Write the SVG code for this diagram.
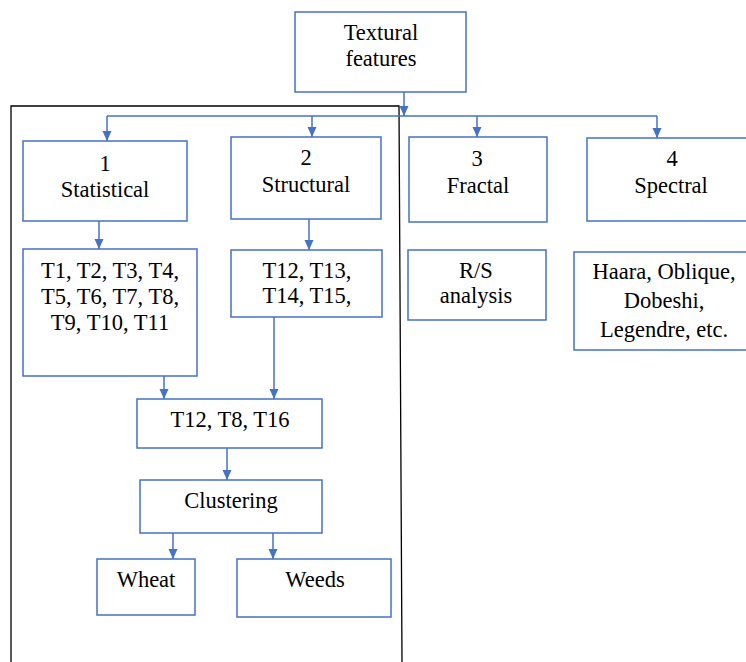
<svg xmlns="http://www.w3.org/2000/svg" width="746" height="662" viewBox="0 0 746 662">
<style>
.box{fill:#fff;stroke:#4472C4;stroke-width:1.5}
.ln{fill:none;stroke:#4472C4;stroke-width:1.5}
.ar{fill:none;stroke:#4472C4;stroke-width:1.5;marker-end:url(#ah)}
.t{font-family:'Liberation Serif','DejaVu Serif',serif;font-size:22.5px;fill:#000;text-anchor:middle}
</style>
<defs>
<marker id="ah" markerUnits="userSpaceOnUse" markerWidth="12" markerHeight="12" viewBox="0 0 12 12" refX="10" refY="6" orient="auto">
<path d="M0,1.5 L10,6 L0,10.5 Z" fill="#4472C4"/>
</marker>
</defs>
<rect width="746" height="662" fill="#fff"/>
<path id="frame" d="M11,662 L11,106 L399,106 L402,662" fill="none" stroke="#000" stroke-width="1.3"/>
<g id="connectors">
<line class="ar" x1="404" y1="92" x2="404" y2="116"/>
<line class="ln" x1="107" y1="116" x2="657" y2="116"/>
<line class="ar" x1="107" y1="116" x2="107" y2="141"/>
<line class="ar" x1="312" y1="116" x2="312" y2="137"/>
<line class="ar" x1="477" y1="116" x2="477" y2="137"/>
<line class="ar" x1="657" y1="116" x2="657" y2="138"/>
<line class="ar" x1="99" y1="221" x2="99" y2="249"/>
<line class="ar" x1="309" y1="219" x2="309" y2="250"/>
<line class="ar" x1="164" y1="376" x2="164" y2="399"/>
<line class="ar" x1="274" y1="317" x2="274" y2="399"/>
<line class="ar" x1="227" y1="448" x2="227" y2="480"/>
<line class="ar" x1="173" y1="533" x2="173" y2="559"/>
<line class="ar" x1="273" y1="533" x2="273" y2="559"/>
</g>
<g class="t">
<g id="n-textural"><rect class="box" x="295" y="12" width="171" height="80"/><text x="381" y="40">Textural</text><text x="381" y="66">features</text></g>
<g id="n-statistical"><rect class="box" x="23" y="141" width="164" height="80"/><text x="105" y="171">1</text><text x="105" y="197">Statistical</text></g>
<g id="n-structural"><rect class="box" x="231" y="137" width="150" height="82"/><text x="306" y="165">2</text><text x="306" y="192">Structural</text></g>
<g id="n-fractal"><rect class="box" x="409" y="137" width="138" height="85"/><text x="477" y="166">3</text><text x="478" y="193">Fractal</text></g>
<g id="n-spectral"><rect class="box" x="587" y="138" width="162" height="83"/><text x="672" y="166">4</text><text x="671" y="193">Spectral</text></g>
<g id="n-t1"><rect class="box" x="23" y="249" width="174" height="127"/><text x="110" y="278">T1, T2, T3, T4,</text><text x="110" y="304">T5, T6, T7, T8,</text><text x="110" y="330">T9, T10, T11</text></g>
<g id="n-t12"><rect class="box" x="231" y="250" width="151" height="67"/><text x="307" y="278">T12, T13,</text><text x="307" y="303">T14, T15,</text></g>
<g id="n-rs"><rect class="box" x="408" y="250" width="138" height="70"/><text x="476" y="278">R/S</text><text x="476" y="303">analysis</text></g>
<g id="n-haara"><rect class="box" x="574" y="252" width="175" height="98"/><text x="664" y="279">Haara, Oblique,</text><text x="664" y="308">Dobeshi,</text><text x="664" y="337">Legendre, etc.</text></g>
<g id="n-t12t8"><rect class="box" x="137" y="399" width="185" height="49"/><text x="230" y="427">T12, T8, T16</text></g>
<g id="n-clustering"><rect class="box" x="140" y="480" width="182" height="53"/><text x="231" y="508">Clustering</text></g>
<g id="n-wheat"><rect class="box" x="97" y="559" width="98" height="56"/><text x="146" y="587">Wheat</text></g>
<g id="n-weeds"><rect class="box" x="237" y="559" width="154" height="58"/><text x="315" y="587">Weeds</text></g>
</g>
</svg>
